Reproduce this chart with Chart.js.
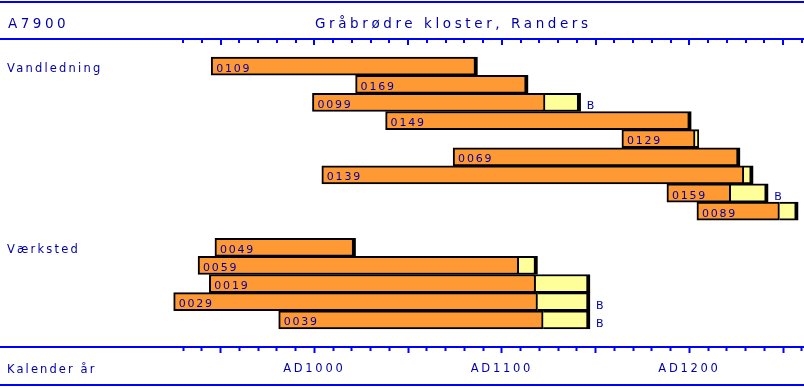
<!DOCTYPE html>
<html>
<head>
<meta charset="utf-8">
<script src="https://cdn.jsdelivr.net/npm/chart.js@4.4.0/dist/chart.umd.min.js"></script>
<style>
html, body { margin: 0; padding: 0; background: #fff; }
</style>
</head>
<body>
<canvas id="dendro" width="804" height="388"></canvas>
<script>
var siteCode = 'A7900';
var siteTitle = 'Gråbrødre kloster, Randers';
var axisTitle = 'Kalender år';
var groupNames = ['Vandledning', 'Værksted'];
var groupSamples = [
    ['0109', '0169', '0099', '0149', '0129', '0069', '0139', '0159', '0089'],
    ['0049', '0059', '0019', '0029', '0039']
];
// years per sample, in the same order as groupSamples
var firstYear = [945, 1022, 999, 1038, 1164, 1074, 1004, 1188, 1204, 947, 938, 944, 925, 981];
var heartEnd = [1087, 1114, 1123, 1201, 1203, 1227, 1229, 1222, 1248, 1022, 1109, 1118, 1119, 1122];
var sapEnd = [null, null, 1142, null, 1205, null, 1234, 1242, 1258, null, 1119, 1147, 1147, 1147];
var barkEdge = [false, false, true, false, false, false, false, true, false, false, false, false, true, true];
var tickYears = [930, 940, 950, 960, 970, 980, 990, 1000, 1010, 1020, 1030, 1040, 1050, 1060, 1070, 1080, 1090,
    1100, 1110, 1120, 1130, 1140, 1150, 1160, 1170, 1180, 1190, 1200, 1210, 1220, 1230, 1240, 1250, 1260];
var labelYears = [1000, 1100, 1200];
var yearMin = 832.4;
var yearMax = 1261.1;

var textColor = '#0000a8';
var lineColor = '#0000ff';

// one row per sample, blank rows above, between groups and below
var rowLabels = [''];
var rowOfSample = [];
var rowOfGroup = [];
groupSamples.forEach(function(ids, g) {
    if (g > 0) rowLabels.push('');
    rowOfGroup.push(rowLabels.length);
    ids.forEach(function(id) {
        rowOfSample.push(rowLabels.length);
        rowLabels.push(id);
    });
});
rowLabels.push('');

var heartData = rowLabels.map(function() { return null; });
var sapData = rowLabels.map(function() { return null; });
var barkRow = rowLabels.map(function() { return false; });
rowOfSample.forEach(function(r, i) {
    heartData[r] = [firstYear[i], heartEnd[i]];
    if (sapEnd[i] != null) sapData[r] = [heartEnd[i], sapEnd[i]];
    barkRow[r] = barkEdge[i];
});

function putText(c, text, x, y, size, spacing) {
    c.font = size + 'px "DejaVu Sans"';
    c.letterSpacing = spacing + 'px';
    c.fillStyle = textColor;
    c.textAlign = 'left';
    c.textBaseline = 'alphabetic';
    c.fillText(text, x, y);
}

var frameDecor = {
    id: 'frameDecor',
    beforeDraw: function(chart) {
        chart.ctx.letterSpacing = '2.7px';
    },
    afterDraw: function(chart) {
        var c = chart.ctx;
        var yScale = chart.scales.y;
        c.save();
        c.fillStyle = lineColor;
        c.fillRect(0, 1, chart.width, 2);
        c.fillRect(0, 384, chart.width, 2);

        putText(c, siteCode, 8, 28, 13.5, 3.5);
        putText(c, siteTitle, 315, 28, 13.5, 3.6);
        putText(c, axisTitle, 7, 373, 11.5, 2.1);

        groupNames.forEach(function(name, g) {
            putText(c, name, 7, yScale.getPixelForValue(rowOfGroup[g]) + 6, 11.5, 2.2);
        });

        var heartMeta = chart.getDatasetMeta(0);
        var sapMeta = chart.getDatasetMeta(1);
        heartMeta.data.forEach(function(el, r) {
            if (!heartData[r]) return;
            var left = Math.min(el.x, el.base);
            putText(c, rowLabels[r], left + 5, el.y + 5.5, 11, 1.8);
            if (barkRow[r]) {
                var end = sapData[r] ? sapMeta.data[r].x : el.x;
                putText(c, 'B', end + 6, el.y + 7, 11, 0);
            }
        });
        c.restore();
    }
};

var ctx = document.getElementById('dendro').getContext('2d');
new Chart(ctx, {
    type: 'bar',
    data: {
        labels: rowLabels,
        datasets: [
            {
                label: 'Kerneved',
                data: heartData,
                xAxisID: 'x',
                backgroundColor: '#ff9933',
                borderColor: '#000000',
                borderWidth: function(c) {
                    return { top: 2, bottom: 2, left: 2, right: sapData[c.dataIndex] ? 2 : 4 };
                },
                borderSkipped: false,
                grouped: false,
                barPercentage: 1,
                categoryPercentage: 1
            },
            {
                label: 'Splintved',
                data: sapData,
                xAxisID: 'x',
                backgroundColor: '#ffff99',
                borderColor: '#000000',
                borderWidth: { top: 2, bottom: 2, left: 0, right: 4 },
                borderSkipped: false,
                grouped: false,
                barPercentage: 1,
                categoryPercentage: 1
            }
        ]
    },
    options: {
        indexAxis: 'y',
        responsive: false,
        animation: false,
        layout: { padding: 0 },
        plugins: {
            legend: { display: false },
            tooltip: { enabled: false },
            title: { display: false }
        },
        scales: {
            y: {
                type: 'category',
                display: false,
                offset: true
            },
            x: {
                type: 'linear',
                position: 'bottom',
                min: yearMin,
                max: yearMax,
                afterBuildTicks: function(s) {
                    s.ticks = tickYears.map(function(v) { return { value: v }; });
                },
                afterFit: function(s) {
                    s.height = 41;
                    s.paddingLeft = 0;
                    s.paddingRight = 0;
                },
                ticks: {
                    autoSkip: false,
                    maxRotation: 0,
                    padding: 9,
                    color: textColor,
                    font: { family: 'DejaVu Sans', size: 11.5 },
                    callback: function(v) {
                        return labelYears.indexOf(v) >= 0 ? 'AD' + v : '';
                    }
                },
                grid: {
                    drawOnChartArea: false,
                    tickLength: 6,
                    tickWidth: 2,
                    tickColor: lineColor,
                    tickBorderDash: function(c) {
                        return c.tick && c.tick.value % 50 === 0 ? [] : [3, 20];
                    }
                },
                border: { color: lineColor, width: 2 }
            },
            x2: {
                type: 'linear',
                position: 'top',
                min: yearMin,
                max: yearMax,
                afterBuildTicks: function(s) {
                    s.ticks = tickYears.map(function(v) { return { value: v }; });
                },
                afterFit: function(s) { s.height = 39; },
                ticks: { display: false },
                grid: {
                    drawTicks: false,
                    drawOnChartArea: true,
                    color: lineColor,
                    lineWidth: 2
                },
                border: {
                    color: lineColor,
                    width: 2,
                    dash: function(c) {
                        return c.tick && c.tick.value % 50 === 0 ? [5, 1000] : [3, 1000];
                    }
                }
            }
        }
    },
    plugins: [frameDecor]
});
</script>
</body>
</html>
